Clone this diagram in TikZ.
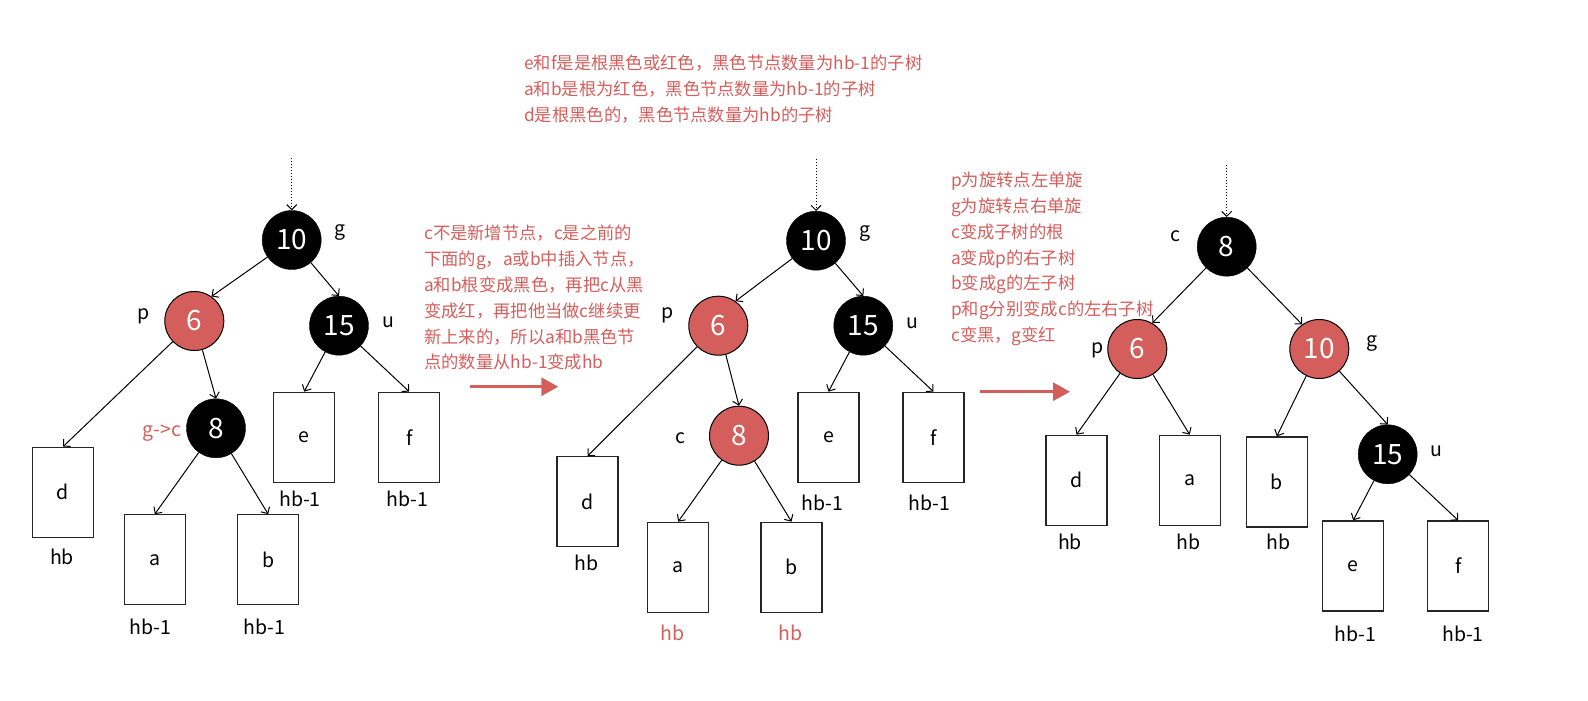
\documentclass[tikz,border=0pt]{standalone}
\usepackage{fontspec}
\setmainfont{Noto Sans CJK SC}
\usetikzlibrary{arrows.meta}
\definecolor{rbred}{RGB}{212,94,92}

\begin{document}
\begin{tikzpicture}[x=1pt, y=-1pt,
    blacknode/.style={circle, draw=black, fill=black, text=white, minimum size=59pt, inner sep=0pt, font=\fontsize{28}{28}\selectfont},
    rednode/.style={circle, draw=black, line width=1pt, fill=rbred, text=white, minimum size=59pt, inner sep=0pt, font=\fontsize{28}{28}\selectfont},
    subtree/.style={draw=black!85, line width=1.3pt, minimum width=61pt, minimum height=90pt, inner sep=0pt, font=\fontsize{19.5}{19.5}\selectfont},
    lbl/.style={font=\fontsize{19.5}{19.5}\selectfont, inner sep=0pt},
    redlbl/.style={lbl, text=rbred},
    note/.style={font=\fontsize{17.3}{25.8}\selectfont, text=rbred, align=left, anchor=north west, inner sep=0pt},
    link/.style={-{Straight Barb[length=5pt,width=10pt]}, line width=1pt},
    inarrow/.style={link, dotted},
    redarrow/.style={-{Triangle[length=17pt,width=18pt]}, line width=3pt, draw=rbred}
]
    \useasboundingbox (0,0) rectangle (1588,701);

    % Notes
    \node[note] (notetop) at (524,55) {e和f是是根黑色或红色，黑色节点数量为hb-1的子树\\a和b是根为红色，黑色节点数量为hb-1的子树\\d是根黑色的，黑色节点数量为hb的子树};
    \node[note] (noteleft) at (424,225) {c不是新增节点，c是之前的\\下面的g，a或b中插入节点，\\a和b根变成黑色，再把c从黑\\变成红，再把他当做c继续更\\新上来的，所以a和b黑色节\\点的数量从hb-1变成hb};
    \node[note] (noteright) at (951,172) {p为旋转点左单旋\\g为旋转点右单旋\\c变成子树的根\\a变成p的右子树\\b变成g的左子树\\p和g分别变成c的左右子树\\c变黑，g变红};

    % Tree 1
    \node[blacknode] (g1) at (291.7,240) {10};
    \node[rednode] (p1) at (194.3,321) {6};
    \node[blacknode] (u1) at (339,325.7) {15};
    \node[blacknode] (c1) at (216,428.3) {8};
    \node[subtree] (d1) at (63,492.3) {d};
    \node[subtree] (a1) at (154.8,559.8) {a};
    \node[subtree] (b1) at (268.2,559.8) {b};
    \node[subtree] (e1) at (304.2,437.3) {e};
    \node[subtree] (f1) at (409.2,437.3) {f};
    \coordinate (in1) at (291.7,158);

    \node[lbl] (g1lbl) at (340,233) {g};
    \node[lbl] (p1lbl) at (144,316.7) {p};
    \node[lbl] (u1lbl) at (388,322.7) {u};
    \node[redlbl] (c1lbl) at (161.7,433.3) {g->c};
    \node[lbl] (d1lbl) at (62,557.3) {hb};
    \node[lbl] (a1lbl) at (150.7,626.7) {hb-1};
    \node[lbl] (b1lbl) at (264.3,626.7) {hb-1};
    \node[lbl] (e1lbl) at (300,499) {hb-1};
    \node[lbl] (f1lbl) at (407.3,499) {hb-1};

    \draw[inarrow] (in1) -- (g1.north);
    \draw[link] (g1) -- (p1.55);
    \draw[link] (g1) -- (u1.north);
    \draw[link] (p1) -- (d1.north);
    \draw[link] (p1) -- (c1.north);
    \draw[link] (c1) -- (a1.north);
    \draw[link] (c1) -- (b1.north);
    \draw[link] (u1) -- (e1.north);
    \draw[link] (u1) -- (f1.north);

    % Step 1
    \coordinate (s1) at (470,386.7);
    \coordinate (t1) at (558.3,386.7);
    \draw[redarrow] (s1) -- (t1);

    % Tree 2
    \node[blacknode] (g2) at (816,240.7) {10};
    \node[rednode] (p2) at (718.3,325.7) {6};
    \node[blacknode] (u2) at (863.3,325.7) {15};
    \node[rednode] (c2) at (739,435.7) {8};
    \node[subtree] (d2) at (587.5,501.7) {d};
    \node[subtree] (a2) at (678.2,567.3) {a};
    \node[subtree] (b2) at (791.5,567.3) {b};
    \node[subtree] (e2) at (828.5,437.3) {e};
    \node[subtree] (f2) at (933.5,437.3) {f};
    \coordinate (in2) at (816,159);

    \node[lbl] (g2lbl) at (865,233.3) {g};
    \node[lbl] (p2lbl) at (667.7,315.7) {p};
    \node[lbl] (u2lbl) at (912.7,323.3) {u};
    \node[lbl] (c2lbl) at (680,437.7) {c};
    \node[lbl] (d2lbl) at (586.7,563.3) {hb};
    \node[redlbl] (a2lbl) at (672.7,633.3) {hb};
    \node[redlbl] (b2lbl) at (790.7,633.3) {hb};
    \node[lbl] (e2lbl) at (822.3,503.3) {hb-1};
    \node[lbl] (f2lbl) at (929.3,503.3) {hb-1};

    \draw[inarrow] (in2) -- (g2.north);
    \draw[link] (g2) -- (p2.55);
    \draw[link] (g2) -- (u2.north);
    \draw[link] (p2) -- (d2.north);
    \draw[link] (p2) -- (c2.north);
    \draw[link] (c2) -- (a2.north);
    \draw[link] (c2) -- (b2.north);
    \draw[link] (u2) -- (e2.north);
    \draw[link] (u2) -- (f2.north);

    % Step 2
    \coordinate (s2) at (980,391.7);
    \coordinate (t2) at (1070,391.7);
    \draw[redarrow] (s2) -- (t2);

    % Tree 3
    \node[blacknode] (c3) at (1226.7,246.7) {8};
    \node[rednode] (p3) at (1137.3,349) {6};
    \node[rednode] (g3) at (1319.3,349) {10};
    \node[blacknode] (u3) at (1387.7,454.3) {15};
    \node[subtree] (d3) at (1076.5,480.3) {d};
    \node[subtree] (a3) at (1189.7,480.3) {a};
    \node[subtree] (b3) at (1276.8,482) {b};
    \node[subtree] (e3) at (1353.2,566) {e};
    \node[subtree] (f3) at (1458.2,566) {f};
    \coordinate (in3) at (1226.7,165);

    \node[lbl] (c3lbl) at (1175,236) {c};
    \node[lbl] (p3lbl) at (1097.3,350) {p};
    \node[lbl] (g3lbl) at (1371.7,343.3) {g};
    \node[lbl] (u3lbl) at (1436.7,451.7) {u};
    \node[lbl] (d3lbl) at (1070,542.3) {hb};
    \node[lbl] (a3lbl) at (1188.3,542.3) {hb};
    \node[lbl] (b3lbl) at (1278.3,542.3) {hb};
    \node[lbl] (e3lbl) at (1355.7,634) {hb-1};
    \node[lbl] (f3lbl) at (1463,634) {hb-1};

    \draw[inarrow] (in3) -- (c3.north);
    \draw[link] (c3) -- (p3.60);
    \draw[link] (c3) -- (g3.125);
    \draw[link] (p3) -- (d3.north);
    \draw[link] (p3) -- (a3.north);
    \draw[link] (g3) -- (b3.north);
    \draw[link] (g3) -- (u3.north);
    \draw[link] (u3) -- (e3.north);
    \draw[link] (u3) -- (f3.north);
\end{tikzpicture}
\end{document}
